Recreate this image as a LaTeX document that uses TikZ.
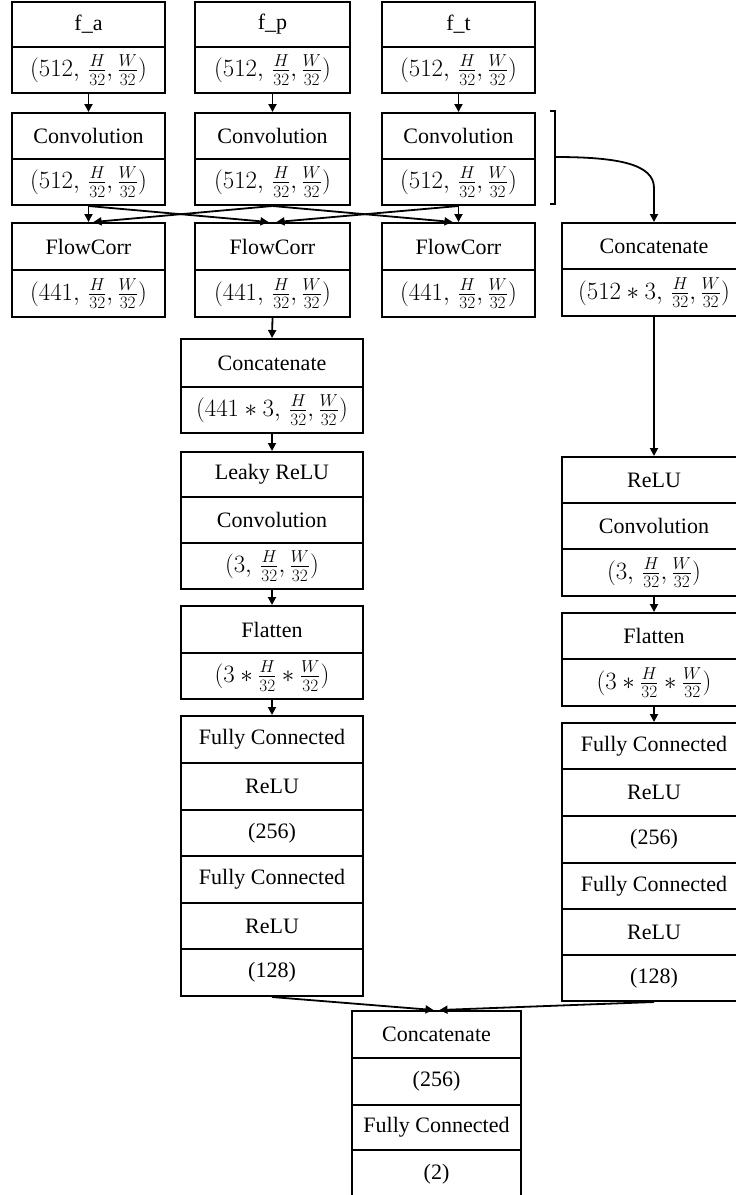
\documentclass[tikz,border=0pt]{standalone}
\usepackage{fontspec}
\setmainfont{Liberation Serif}
\usetikzlibrary{arrows.meta,calc}
\newcommand\dimtxt[1]{{\fontsize{24}{28}\selectfont$(#1,\,\frac{H}{32},\frac{W}{32})$}}
\newcommand\flattxt{{\fontsize{24}{28}\selectfont$(3*\frac{H}{32}*\frac{W}{32})$}}
\begin{document}
\begin{tikzpicture}[x=1pt,y=-1pt,
  cell/.style={draw, line width=2pt, inner sep=0pt, anchor=north, font=\fontsize{22}{26}\selectfont\rmfamily},
  wa/.style={cell, minimum width=153pt},
  wp/.style={cell, minimum width=155pt},
  wm/.style={cell, minimum width=182pt},
  wr/.style={cell, minimum width=184pt},
  wz/.style={cell, minimum width=169pt},
  arr/.style={-{Triangle[length=8pt,width=8pt]}, line width=1.8pt},
  brk/.style={line width=1.1pt}]
\useasboundingbox (0,0) rectangle (736,1195);
\clip (0,0) rectangle (736,1195);
% column f_a
\node[wa, minimum height=45pt] (fa1) at (88.5,1) {f\_a};
\node[wa, minimum height=46pt] (fa2) at (88.5,46) {\dimtxt{512}};
\node[wa, minimum height=46pt] (ca1) at (88.5,112) {Convolution};
\node[wa, minimum height=46pt] (ca2) at (88.5,158) {\dimtxt{512}};
\node[wa, minimum height=47pt] (ka1) at (88.5,222) {FlowCorr};
\node[wa, minimum height=47pt] (ka2) at (88.5,269) {\dimtxt{441}};
% column f_p
\node[wp, minimum height=45pt] (fp1) at (272.5,1) {f\_p};
\node[wp, minimum height=46pt] (fp2) at (272.5,46) {\dimtxt{512}};
\node[wp, minimum height=46pt] (cp1) at (272.5,112) {Convolution};
\node[wp, minimum height=46pt] (cp2) at (272.5,158) {\dimtxt{512}};
\node[wp, minimum height=47pt] (kp1) at (272.5,222) {FlowCorr};
\node[wp, minimum height=47pt] (kp2) at (272.5,269) {\dimtxt{441}};
% column f_t
\node[wa, minimum height=45pt] (ft1) at (458.5,1) {f\_t};
\node[wa, minimum height=46pt] (ft2) at (458.5,46) {\dimtxt{512}};
\node[wa, minimum height=46pt] (ct1) at (458.5,112) {Convolution};
\node[wa, minimum height=46pt] (ct2) at (458.5,158) {\dimtxt{512}};
\node[wa, minimum height=47pt] (kt1) at (458.5,222) {FlowCorr};
\node[wa, minimum height=47pt] (kt2) at (458.5,269) {\dimtxt{441}};
% middle column
\node[wm, minimum height=48pt] (m1) at (272,338) {Concatenate};
\node[wm, minimum height=46pt] (m2) at (272,386) {\dimtxt{441*3}};
\node[wm, minimum height=45pt] (l1) at (272,451) {Leaky ReLU};
\node[wm, minimum height=46pt] (l2) at (272,496) {Convolution};
\node[wm, minimum height=46pt] (l3) at (272,542) {\dimtxt{3}};
\node[wm, minimum height=47pt] (n1) at (272,605) {Flatten};
\node[wm, minimum height=46pt] (n2) at (272,652) {\flattxt};
\node[wm, minimum height=47pt] (g1) at (272,715) {Fully Connected};
\node[wm, minimum height=47pt] (g2) at (272,762) {ReLU};
\node[wm, minimum height=46pt] (g3) at (272,809) {(256)};
\node[wm, minimum height=47pt] (g4) at (272,855) {Fully Connected};
\node[wm, minimum height=46pt] (g5) at (272,902) {ReLU};
\node[wm, minimum height=47pt] (g6) at (272,948) {(128)};
% right column
\node[wr, minimum height=46pt] (r1) at (654,222) {Concatenate};
\node[wr, minimum height=47pt] (r2) at (654,268) {\dimtxt{512*3}};
\node[wr, minimum height=46pt] (s1) at (654,456) {ReLU};
\node[wr, minimum height=46pt] (s2) at (654,502) {Convolution};
\node[wr, minimum height=47pt] (s3) at (654,548) {\dimtxt{3}};
\node[wr, minimum height=46pt] (u1) at (654,612) {Flatten};
\node[wr, minimum height=47pt] (u2) at (654,658) {\flattxt};
\node[wr, minimum height=46pt] (h1) at (654,722) {Fully Connected};
\node[wr, minimum height=47pt] (h2) at (654,768) {ReLU};
\node[wr, minimum height=47pt] (h3) at (654,815) {(256)};
\node[wr, minimum height=46pt] (h4) at (654,862) {Fully Connected};
\node[wr, minimum height=46pt] (h5) at (654,908) {ReLU};
\node[wr, minimum height=46pt] (h6) at (654,954) {(128)};
% bottom column
\node[wz, minimum height=47pt] (z1) at (436.5,1010) {Concatenate};
\node[wz, minimum height=47pt] (z2) at (436.5,1057) {(256)};
\node[wz, minimum height=45pt] (z3) at (436.5,1104) {Fully Connected};
\node[wz, minimum height=49pt] (z4) at (436.5,1149) {(2)};
% arrows top
\draw[arr] (fa2.south) -- (ca1.north);
\draw[arr] (fp2.south) -- (cp1.north);
\draw[arr] (ft2.south) -- (ct1.north);
% crossing
\draw[arr] (ca2.south) -- (ka1.north);
\draw[arr] (cp2.south) -- ($(ka1.north)+(5,0)$);
\draw[arr] (ca2.south) -- ($(kp1.north)+(-4,0)$);
\draw[arr] (ct2.south) -- ($(kp1.north)+(4,0)$);
\draw[arr] (cp2.south) -- ($(kt1.north)+(-6,0)$);
\draw[arr] (ct2.south) -- (kt1.north);
% middle chain
\draw[arr] (kp2.south) -- (m1.north);
\draw[arr] (m2.south) -- (l1.north);
\draw[arr] (l3.south) -- (n1.north);
\draw[arr] (n2.south) -- (g1.north);
% right chain
\coordinate (brt) at (550,111);
\coordinate (brm) at (555,157);
\coordinate (bend) at (654,188);
\draw[brk] (brt) -- ++(5,0) -- ++(0,93) -- ++(-5,0);
\draw[arr] (brm) .. controls (618,157) and (654,164) .. (bend) -- (r1.north);
\draw[arr] (r2.south) -- (s1.north);
\draw[arr] (s3.south) -- (u1.north);
\draw[arr] (u2.south) -- (h1.north);
% merge
\draw[arr] (g6.south) -- ($(z1.north)+(-3,0)$);
\draw[arr] (h6.south) -- ($(z1.north)+(3,0)$);
\end{tikzpicture}
\end{document}
